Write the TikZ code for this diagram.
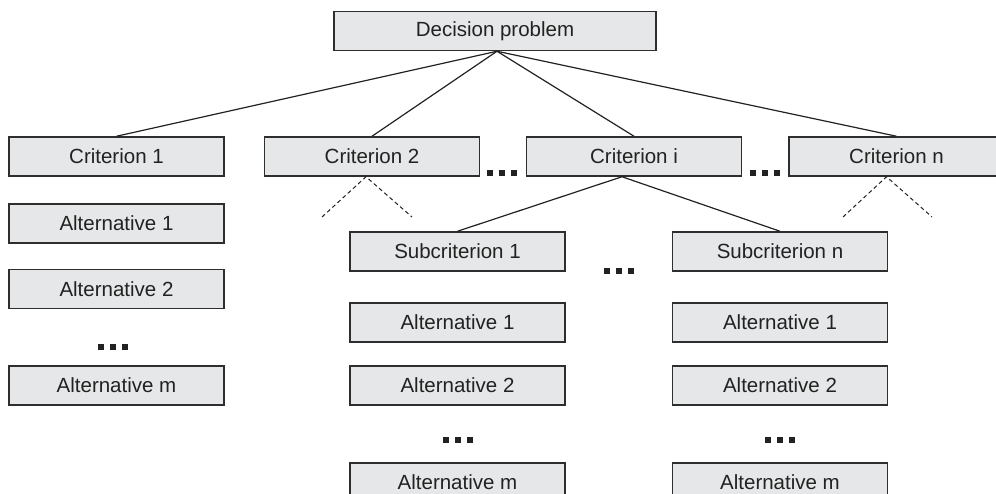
\documentclass[tikz,border=0pt]{standalone}
\usepackage{fontspec}
\setmainfont{Liberation Sans}
\usetikzlibrary{calc}
\definecolor{boxfill}{HTML}{E6E7E8}
\definecolor{boxline}{HTML}{2E2E2E}
\definecolor{inkcol}{HTML}{222222}
\tikzset{
  box/.style={draw=boxline, line width=1.5pt, fill=boxfill, rectangle,
    minimum width=215pt, minimum height=39pt, inner sep=0pt,
    text=inkcol, font=\fontsize{20.5}{24}\selectfont},
  link/.style={draw=inkcol, line width=1.2pt},
  dlink/.style={draw=inkcol, line width=1pt, dash pattern=on 4pt off 3pt},
  tdots/.pic={
    \fill[inkcol] (-15,-3) rectangle ++(6,6);
    \fill[inkcol] (-3,-3) rectangle ++(6,6);
    \fill[inkcol] (9,-3) rectangle ++(6,6);
  }
}
\begin{document}
\begin{tikzpicture}[x=1pt,y=-1pt]
\useasboundingbox (0,0) rectangle (996,494);
% top
\node[box, minimum width=322pt] (dp) at (495,31) {Decision problem};
% criteria
\node[box] (c1) at (116.5,156.5) {Criterion 1};
\node[box] (c2) at (372,156.5) {Criterion 2};
\node[box] (ci) at (634,156.5) {Criterion i};
\node[box] (cn) at (896.5,156.5) {Criterion n};
% left column
\node[box] (la1) at (116.5,223.5) {Alternative 1};
\node[box] (la2) at (116.5,289) {Alternative 2};
\node[box] (lam) at (116.5,385.5) {Alternative m};
% subcriteria
\node[box] (s1) at (457.5,251.5) {Subcriterion 1};
\node[box] (sn) at (780,251.5) {Subcriterion n};
% middle column
\node[box] (ma1) at (457.5,322.5) {Alternative 1};
\node[box] (ma2) at (457.5,385.5) {Alternative 2};
\node[box] (mam) at (457.5,482.5) {Alternative m};
% right column
\node[box] (ra1) at (780,322.5) {Alternative 1};
\node[box] (ra2) at (780,385.5) {Alternative 2};
\node[box] (ram) at (780,482.5) {Alternative m};
% connectors from decision problem
\coordinate (dpb) at ($(dp.south)+(2,0)$);
\draw[link] (dpb) -- (c1.north);
\draw[link] (dpb) -- (c2.north);
\draw[link] (dpb) -- (ci.north);
\draw[link] (dpb) -- (cn.north);
% criterion i to subcriteria
\coordinate (cib) at ($(ci.south)+(-12,0)$);
\draw[link] (cib) -- (s1.north);
\draw[link] (cib) -- (sn.north);
% dashed stubs
\coordinate (c2b) at ($(c2.south)+(-6,0)$);
\coordinate (c2l) at (322,217);
\coordinate (c2r) at (412,217);
\draw[dlink] (c2l) -- (c2b) -- (c2r);
\coordinate (cnb) at ($(cn.south)+(-10,0)$);
\coordinate (cnl) at (843,217);
\coordinate (cnr) at (932,217);
\draw[dlink] (cnl) -- (cnb) -- (cnr);
% ellipses
\pic at (502,173) {tdots};
\pic at (765,173) {tdots};
\pic at (113,347) {tdots};
\pic at (619,271) {tdots};
\pic at (458,440) {tdots};
\pic at (780,440) {tdots};
\end{tikzpicture}
\end{document}
